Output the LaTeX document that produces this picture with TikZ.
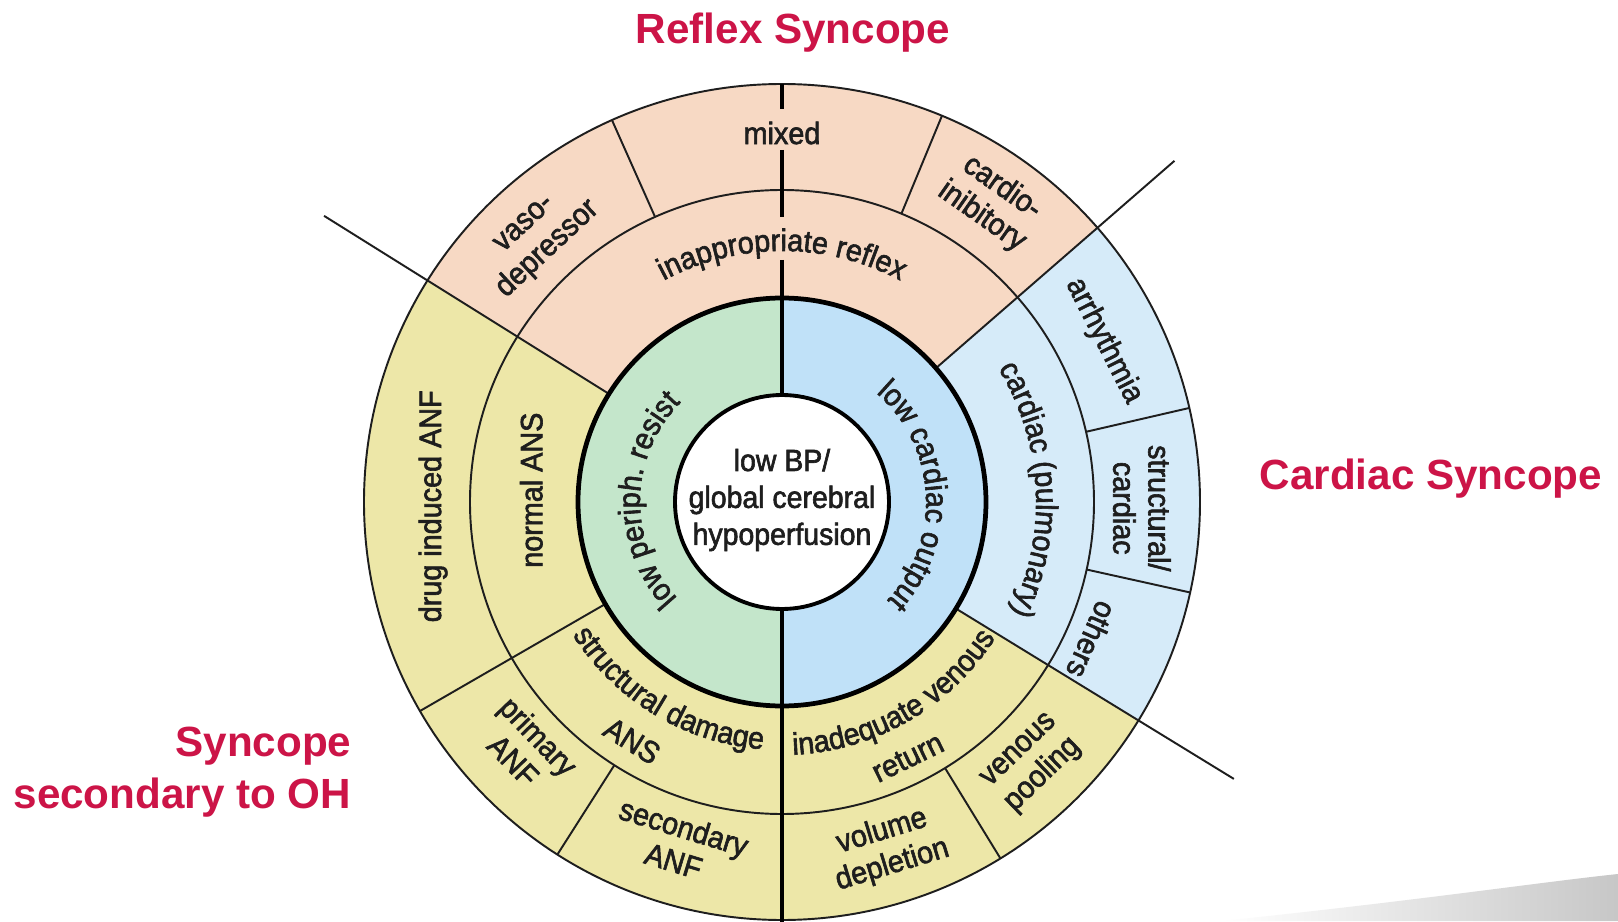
\documentclass[tikz,border=0pt]{standalone}
\usepackage{fontspec}
\setmainfont{Liberation Sans}
\newfontfamily\condfont[FakeStretch=0.93,FakeBold=2]{Liberation Sans}
\usetikzlibrary{decorations.text}

\definecolor{salmon}{RGB}{247,217,196}
\definecolor{straw}{RGB}{237,231,168}
\definecolor{paleblue}{RGB}{214,235,249}
\definecolor{coblue}{RGB}{192,225,248}
\definecolor{mint}{RGB}{196,230,203}
\definecolor{crimson}{RGB}{204,20,71}
\definecolor{ink}{RGB}{30,30,30}

\newcommand{\lblfont}{\condfont\fontsize{8.8}{10}\selectfont}
% annular sector: colour, inner r, outer r, start, end
\newcommand{\ringsec}[5]{\fill[#1] (#4:#2) arc[start angle=#4, end angle=#5, radius=#2] -- (#5:#3) arc[start angle=#5, end angle=#4, radius=#3] -- cycle;}
% text on an arc: start, end, radius, text
\newcommand{\curvlbl}[4]{\path[decorate, decoration={text along path, text={|\lblfont|#4}, text color=ink, text align=center}] (#1:#3) arc[start angle=#1, end angle=#2, radius=#3];}

\begin{document}
\begin{tikzpicture}[x=0.01cm,y=0.01cm,
  lbl/.style={font=\lblfont, text=ink, align=center, inner sep=0pt},
  head/.style={font=\bfseries\fontsize{12}{18}\selectfont, text=crimson, inner sep=0pt},
  divline/.style={draw=ink, line width=0.55pt},
  heavyline/.style={draw=black, line width=1.35pt}]
\useasboundingbox[fill=white] (-782,-419) rectangle (836,502);
\shade[left color=white, right color=black!22] (440,-419) .. controls (640,-398) and (760,-380) .. (836,-372) -- (836,-419) -- cycle;

\ringsec{mint}{107}{204}{90}{270}
\ringsec{coblue}{107}{204}{-90}{90}
\ringsec{salmon}{204}{418}{41}{148}
\ringsec{paleblue}{204}{418}{-31.5}{41}
\ringsec{straw}{204}{418}{148}{328.5}

\draw[divline] (0,0) circle[radius=312];
\draw[divline] (0,0) circle[radius=418];
\draw[divline] (148:204) -- (148:540);
\draw[divline] (41:204) -- (41:520);
\draw[divline] (-31.5:204) -- (-31.5:530);
\draw[divline] (210:204) -- (210:418);
\foreach \a in {114,67.5,13,-12.5,-58.5,237.5}
  \draw[divline] (\a:312) -- (\a:418);

\draw[heavyline] (0,0) circle[radius=204];
\draw[heavyline, line width=1.1pt, fill=white] (0,0) circle[radius=107];
\draw[heavyline] (0,418) -- (0,393);
\draw[heavyline] (0,352) -- (0,285);
\draw[heavyline] (0,242) -- (0,107);
\draw[heavyline] (0,-107) -- (0,-420);

\node (core) at (0,2) [lbl, font=\condfont\fontsize{8.7}{10.5}\selectfont] {low BP/\\global cerebral\\hypoperfusion};

\curvlbl{239}{119}{142}{low periph. resist}
\curvlbl{63}{-57}{144}{low cardiac output}
\curvlbl{150}{30}{251}{inappropriate reflex}
\curvlbl{63}{-57}{254}{cardiac (pulmonary)}
\curvlbl{179}{299}{248}{structural damage}
\curvlbl{-120}{0}{253}{inadequate venous}

\node (ans) at (237.9:282) [lbl, rotate=-32] {ANS};
\node (return) at (-63.8:285) [lbl, rotate=26] {return};
\node (normal) at (177.3:251) [lbl, rotate=90] {normal ANS};

\node (mixed) at (0,369) [lbl] {mixed};
\node (vaso) at (132.8:360) [lbl, rotate=43] {vaso-\\depressor};
\node (cardio) at (55:366) [lbl, rotate=-35] {cardio-\\inibitory};
\node (arrhy) at (26.6:360) [lbl, rotate=-63] {arrhythmia};
\node (structcard) at (-1:360) [lbl, rotate=-90] {structural/\\cardiac};
\node (others) at (-24:339) [lbl, rotate=-114] {others};
\node (pooling) at (-46.3:362) [lbl, rotate=44] {venous\\pooling};
\node (volume) at (-73.1:362) [lbl, rotate=17] {volume\\depletion};
\node (secanf) at (253.2:357) [lbl, rotate=-17] {secondary\\ANF};
\node (primanf) at (223.9:355) [lbl, rotate=-46] {primary\\ANF};
\node (drug) at (180.7:349) [lbl, rotate=90] {drug induced ANF};

\node (reflex) at (11,458) [head, anchor=base] {Reflex Syncope};
\node (cardiac) at (649,12) [head, anchor=base] {Cardiac Syncope};
\node (oh1) at (-430,-254) [head, anchor=base east] {Syncope};
\node (oh2) at (-430,-306) [head, anchor=base east] {secondary to OH};
\end{tikzpicture}
\end{document}
